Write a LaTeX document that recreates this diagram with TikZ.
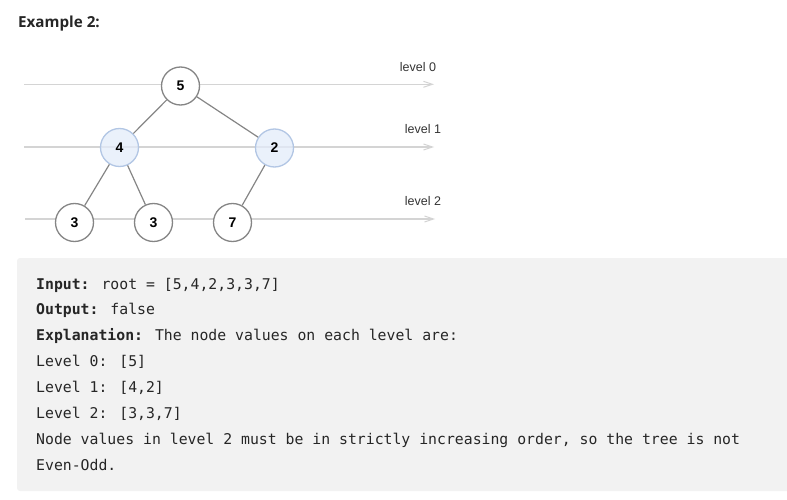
\documentclass[tikz,border=0pt]{standalone}
\usepackage{fontspec}
\setmainfont{Liberation Sans}
\newfontfamily\titlefont{Open Sans}
\newfontfamily\codefont{DejaVu Sans Mono}
\usetikzlibrary{arrows.meta}
\definecolor{levelline}{HTML}{D4D4D4}
\definecolor{edgegray}{HTML}{858585}
\definecolor{circgray}{HTML}{858585}
\definecolor{bluefill}{HTML}{E3ECFA}
\definecolor{blueborder}{HTML}{B2C6E4}
\definecolor{boxgray}{HTML}{F2F2F2}
\definecolor{txt}{HTML}{262626}
\definecolor{lbl}{HTML}{333333}
\tikzset{
  levelarrow/.style={draw=levelline, line width=1.4pt, -{Straight Barb[length=9pt,width=6pt,line width=1pt]}},
  treeedge/.style={draw=edgegray, line width=1.2pt},
  treenode/.style={circle, draw=circgray, line width=1.3pt, fill=white, minimum size=38pt, inner sep=0pt, font=\fontsize{14}{14}\selectfont\bfseries, text=black},
  bluenode/.style={treenode, draw=blueborder, fill=bluefill, fill opacity=0.75, text opacity=1},
  levellabel/.style={font=\fontsize{12.5}{12.5}\selectfont, text=lbl, inner sep=0pt},
  codeline/.style={anchor=base west, inner sep=0pt, font=\codefont\fontsize{14.8}{14.8}\selectfont, text=txt},
}
\begin{document}
\begin{tikzpicture}[x=1pt,y=-1pt]
\useasboundingbox (0,0) rectangle (787,500);
% title
\node[anchor=base west, inner sep=0pt, font=\titlefont\bfseries\fontsize{15.2}{15.2}\selectfont, text=txt] (title) at (18,27.5) {Example 2:};
% level lines
\coordinate (l0s) at (24,84.3); \coordinate (l0e) at (434,84.3);
\coordinate (l1s) at (24,147); \coordinate (l1e) at (434,147);
\coordinate (l2s) at (25,219); \coordinate (l2e) at (435,219);
\draw[levelarrow] (l0s) -- (l0e);
\draw[levelarrow] (l1s) -- (l1e);
\draw[levelarrow] (l2s) -- (l2e);
\node[levellabel] (lab0) at (418,67) {level 0};
\node[levellabel] (lab1) at (423,129) {level 1};
\node[levellabel] (lab2) at (423,201) {level 2};
% nodes
\node[treenode] (n5) at (180.5,86) {5};
\node[bluenode] (n4) at (119.5,147.5) {4};
\node[bluenode] (n2) at (274.5,148) {2};
\node[treenode] (n3a) at (74.5,222.5) {3};
\node[treenode] (n3b) at (153.5,222.5) {3};
\node[treenode] (n7) at (232.5,222.5) {7};
% edges
\draw[treeedge] (n5) -- (n4);
\draw[treeedge] (n5) -- (n2);
\draw[treeedge] (n4) -- (n3a);
\draw[treeedge] (n4) -- (n3b);
\draw[treeedge] (n2) -- (n7);
% box
\fill[boxgray, rounded corners=3pt] (17,258) rectangle (800,491);
\node[codeline] (c1) at (36,289) {\textbf{Input:} root = [5,4,2,3,3,7]};
\node[codeline] (c2) at (36,314.5) {\textbf{Output:} false};
\node[codeline] (c3) at (36,340.5) {\textbf{Explanation:} The node values on each level are:};
\node[codeline] (c4) at (36,366.5) {Level 0: [5]};
\node[codeline] (c5) at (36,392.5) {Level 1: [4,2]};
\node[codeline] (c6) at (36,418.5) {Level 2: [3,3,7]};
\node[codeline] (c7) at (36,444.5) {Node values in level 2 must be in strictly increasing order, so the tree is not};
\node[codeline] (c8) at (36,470.5) {Even-Odd.};
\end{tikzpicture}
\end{document}
